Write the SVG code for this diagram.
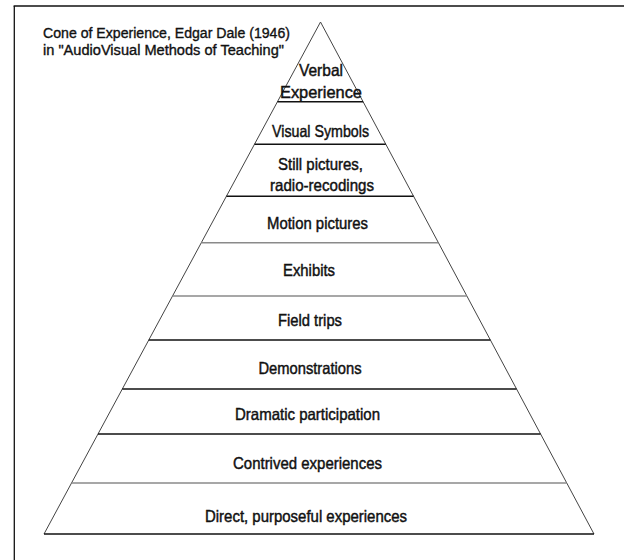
<svg xmlns="http://www.w3.org/2000/svg" width="624" height="560" viewBox="0 0 624 560">
  <style>
    .frame { stroke: #111; stroke-width: 1.3; fill: none; }
    .edge { stroke: #444; stroke-width: 1; fill: none; }
    .div { stroke: #111; stroke-width: 1.4; }
    .div-light { stroke: #8a8a8a; stroke-width: 1.4; }
    .lbl { font-family: "Liberation Sans", Arial, sans-serif; font-size: 16.5px; fill: #111; text-anchor: middle; stroke: #111; stroke-width: 0.45; }
    .title { font-family: "Liberation Sans", Arial, sans-serif; font-size: 14px; fill: #111; stroke: #111; stroke-width: 0.35; }
  </style>
  <rect width="624" height="560" fill="#fff"/>

  <!-- partial frame: left and top rules -->
  <g id="frame">
    <line class="frame" x1="14.3" y1="6" x2="14.3" y2="560"/>
    <line class="frame" x1="13.6" y1="6" x2="624" y2="6"/>
  </g>

  <g id="title">
    <text class="title" x="43" y="38" textLength="247" lengthAdjust="spacingAndGlyphs">Cone of Experience, Edgar Dale (1946)</text>
    <text class="title" x="43" y="54.5" textLength="241" lengthAdjust="spacingAndGlyphs">in "AudioVisual Methods of Teaching"</text>
  </g>

  <!-- cone outline and band dividers -->
  <g id="connectors">
    <polyline class="edge" points="44,534 320.5,22 594,534"/>
    <line class="div" x1="277.5" y1="101.7" x2="363.1" y2="101.7"/>
    <line class="div" x1="254.5" y1="144.3" x2="385.8" y2="144.3"/>
    <line class="div" x1="226.4" y1="196.3" x2="413.6" y2="196.3"/>
    <line class="div-light" x1="201.3" y1="242.7" x2="438.4" y2="242.7"/>
    <line class="div-light" x1="172.5" y1="296" x2="466.9" y2="296"/>
    <line class="div" x1="148.8" y1="340" x2="490.4" y2="340"/>
    <line class="div" x1="122.3" y1="389" x2="516.5" y2="389"/>
    <line class="div" x1="98" y1="434" x2="540.6" y2="434"/>
    <line class="div-light" x1="71.6" y1="483" x2="566.8" y2="483"/>
    <line class="div" x1="44" y1="534" x2="594" y2="534" stroke-width="1.8"/>
  </g>

  <g id="verbal">
    <text class="lbl" x="321" y="76" textLength="44" lengthAdjust="spacingAndGlyphs">Verbal</text>
    <text class="lbl" x="321" y="98" textLength="82" lengthAdjust="spacingAndGlyphs">Experience</text>
  </g>
  <g id="visual-symbols">
    <text class="lbl" x="320.5" y="136.5" textLength="97" lengthAdjust="spacingAndGlyphs">Visual Symbols</text>
  </g>
  <g id="still-pictures">
    <text class="lbl" x="320.5" y="170" textLength="85" lengthAdjust="spacingAndGlyphs">Still pictures,</text>
    <text class="lbl" x="322" y="190.5" textLength="104" lengthAdjust="spacingAndGlyphs">radio-recodings</text>
  </g>
  <g id="motion-pictures">
    <text class="lbl" x="317.5" y="229" textLength="101" lengthAdjust="spacingAndGlyphs">Motion pictures</text>
  </g>
  <g id="exhibits">
    <text class="lbl" x="309" y="275.5" textLength="52" lengthAdjust="spacingAndGlyphs">Exhibits</text>
  </g>
  <g id="field-trips">
    <text class="lbl" x="310" y="326" textLength="64" lengthAdjust="spacingAndGlyphs">Field trips</text>
  </g>
  <g id="demonstrations">
    <text class="lbl" x="310" y="374" textLength="103" lengthAdjust="spacingAndGlyphs">Demonstrations</text>
  </g>
  <g id="dramatic-participation">
    <text class="lbl" x="307.5" y="420" textLength="145" lengthAdjust="spacingAndGlyphs">Dramatic participation</text>
  </g>
  <g id="contrived-experiences">
    <text class="lbl" x="307.5" y="469" textLength="149" lengthAdjust="spacingAndGlyphs">Contrived experiences</text>
  </g>
  <g id="direct-experiences">
    <text class="lbl" x="306" y="521.5" textLength="202" lengthAdjust="spacingAndGlyphs">Direct, purposeful experiences</text>
  </g>
</svg>
